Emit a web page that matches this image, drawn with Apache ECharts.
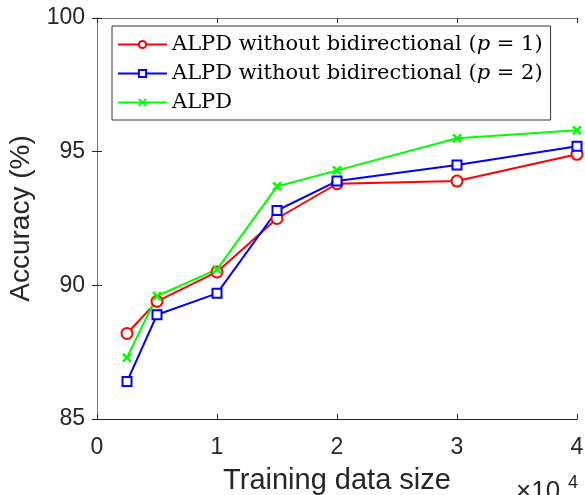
<!DOCTYPE html>
<html>
<head>
<meta charset="utf-8">
<script src="https://cdn.jsdelivr.net/npm/echarts@6/dist/echarts.min.js"></script>
<style>html,body{margin:0;padding:0;background:#fff}#c{width:585px;height:495px}</style>
</head>
<body>
<div id="c"></div>
<script>
const trainingSizes = [2500, 5000, 10000, 15000, 20000, 30000, 40000];
const accP1 = [88.2, 89.4, 90.5, 92.5, 93.8, 93.9, 94.9];
const accP2 = [86.4, 88.9, 89.7, 92.8, 93.9, 94.5, 95.2];
const accALPD = [87.3, 89.6, 90.6, 93.7, 94.3, 95.5, 95.8];
const seriesNames = ['ALPD without bidirectional (p = 1)', 'ALPD without bidirectional (p = 2)', 'ALPD'];
const xTicks = [0, 10000, 20000, 30000, 40000];
const yTicks = [85, 90, 95, 100];

const pair = (ys) => trainingSizes.map((x, i) => [x, ys[i]]);
const crossPath = 'path://M0,0L10,10M10,0L0,10';
const chart = echarts.init(document.getElementById('c'), null, {renderer: 'canvas'});
const axisCol = '#262626';
const sans = 'Liberation Sans, Arial, sans-serif';
const tickFont = {fontFamily: sans, fontSize: 23, color: axisCol};

chart.setOption({
  animation: false,
  backgroundColor: '#fff',
  grid: {left: 97, right: 8, top: 18, bottom: 76, containLabel: false, outerBoundsMode: 'none'},
  xAxis: [{
    type: 'value', min: xTicks[0], max: xTicks[xTicks.length - 1], interval: 10000,
    position: 'bottom',
    axisLine: {show: true, lineStyle: {color: axisCol, width: 1}},
    axisTick: {show: true, inside: true, length: 5, lineStyle: {color: axisCol}},
    splitLine: {show: false},
    axisLabel: Object.assign({margin: 17, formatter: v => String(v / 10000)}, tickFont),
    name: 'Training data size', nameLocation: 'middle', nameGap: 47,
    nameTextStyle: {fontFamily: sans, fontSize: 29, color: axisCol}
  }, {
    type: 'value', min: xTicks[0], max: xTicks[xTicks.length - 1], interval: 10000,
    position: 'top',
    axisLine: {show: true, lineStyle: {color: '#777', width: 1}},
    axisTick: {show: true, inside: true, length: 5, lineStyle: {color: axisCol}},
    splitLine: {show: false}, axisLabel: {show: false}
  }],
  yAxis: [{
    type: 'value', min: yTicks[0], max: yTicks[yTicks.length - 1], interval: 5,
    position: 'left',
    axisLine: {show: true, lineStyle: {color: axisCol, width: 1}},
    axisTick: {show: true, inside: true, length: 5, lineStyle: {color: axisCol}},
    splitLine: {show: false},
    axisLabel: Object.assign({margin: 12}, tickFont),
    name: 'Accuracy (%)', nameLocation: 'middle', nameGap: 60, nameRotate: 90,
    nameTextStyle: {fontFamily: sans, fontSize: 28, color: axisCol}
  }, {
    type: 'value', min: yTicks[0], max: yTicks[yTicks.length - 1], interval: 5,
    position: 'right',
    axisLine: {show: true, lineStyle: {color: '#777', width: 1}},
    axisTick: {show: true, inside: true, length: 5, lineStyle: {color: axisCol}},
    splitLine: {show: false}, axisLabel: {show: false}
  }],
  legend: {
    orient: 'vertical', left: 112, top: 26,
    padding: [4, 8, 3, 5], itemGap: 0,
    itemWidth: 49, itemHeight: 9,
    backgroundColor: '#fff', borderColor: '#333', borderWidth: 1,
    data: seriesNames,
    formatter: function (name) {
      const m = name.match(/^(.*)\((p) = (\d)\)$/);
      if (m) return '{r|' + m[1] + '(}{i|p}{r| = ' + m[3] + ')}';
      return '{r|' + name + '}';
    },
    textStyle: {
      fontFamily: 'DejaVu Serif, serif', fontSize: 21, color: '#000', lineHeight: 29,
      rich: {
        r: {fontFamily: 'DejaVu Serif, serif', fontSize: 21, color: '#000', lineHeight: 29},
        i: {fontFamily: 'DejaVu Serif, serif', fontStyle: 'italic', fontSize: 21, color: '#000', lineHeight: 29}
      }
    }
  },
  series: [{
    name: seriesNames[0], type: 'line', data: pair(accP1),
    symbol: 'emptyCircle', symbolSize: 11,
    lineStyle: {color: '#ff0000', width: 2},
    itemStyle: {color: '#ff0000', borderColor: '#ff0000', borderWidth: 2}
  }, {
    name: seriesNames[1], type: 'line', data: pair(accP2),
    symbol: 'emptyRect', symbolSize: 9,
    lineStyle: {color: '#0000ff', width: 2},
    itemStyle: {color: '#0000ff', borderColor: '#0000ff', borderWidth: 2}
  }, {
    name: seriesNames[2], type: 'line', data: pair(accALPD),
    symbol: crossPath, symbolSize: 8,
    lineStyle: {color: '#00ff00', width: 2},
    itemStyle: {color: 'none', borderColor: '#00ff00', borderWidth: 2.5}
  }],
  graphic: [{
    type: 'text', left: 516, top: 479,
    style: {text: '×10', fontFamily: sans, fontSize: 26, fill: axisCol}
  }, {
    type: 'text', left: 568, top: 474,
    style: {text: '4', fontFamily: sans, fontSize: 18, fill: axisCol}
  }]
});
</script>
</body>
</html>
